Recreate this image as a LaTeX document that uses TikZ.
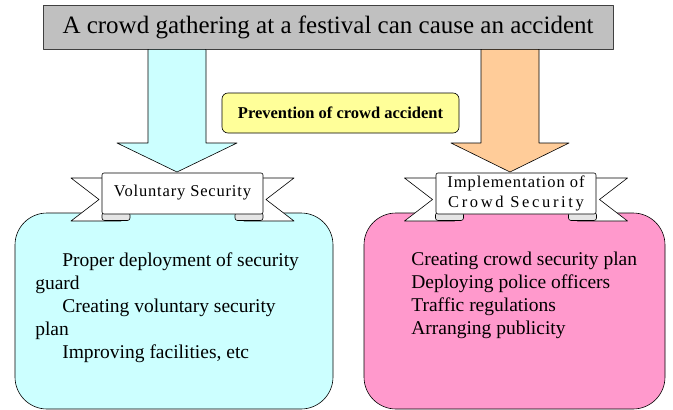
\documentclass[tikz,border=0pt]{standalone}
\usepackage{fontspec}
\setmainfont{Liberation Serif}
\usetikzlibrary{calc}
\definecolor{titlegray}{HTML}{C0C0C0}
\definecolor{lightcyan}{HTML}{CCFFFF}
\definecolor{peach}{HTML}{FFCC99}
\definecolor{paleyellow}{HTML}{FFFF99}
\definecolor{rosepink}{HTML}{FF99CC}
\begin{document}
\begin{tikzpicture}[x=1pt, y=-1pt, line join=round, line width=0.6pt,
		bigbox/.style={draw, rounded corners=32pt, minimum height=196pt},
		ribbon/.style={draw, fill=white, rounded corners=2pt, minimum width=161pt, minimum height=41pt, inner sep=0pt, align=center, font=\fontsize{16.5}{20}\selectfont},
		tail/.style={draw, fill=white},
		fold/.style={draw, fill=gray!20, rounded corners=2.5pt},
		bodytext/.style={anchor=west, inner sep=0pt, align=left, font=\fontsize{19.5}{23}\selectfont}]
		\useasboundingbox (0,0) rectangle (673,410);
		\def\ind{\hspace*{27pt}}
		% two big boxes
		\node[bigbox, fill=lightcyan, minimum width=318pt] (boxL) at (174,311) {};
		\node[bigbox, fill=rosepink, minimum width=301pt] (boxR) at (514.5,311) {};
		\node[bodytext] (txtL) at (35,308) {\ind Proper deployment of security\\guard\\\ind Creating voluntary security\\plan\\\ind Improving facilities, etc};
		\node[bodytext] (txtR) at (411,295) {Creating crowd security plan\\Deploying police officers\\Traffic regulations\\Arranging publicity};
		% title and the two block arrows
		\node[draw=black!75, fill=titlegray, minimum width=570pt, minimum height=44pt, font=\fontsize{25}{30}\selectfont] (title) at (328,27) {A crowd gathering at a festival can cause an accident};
		\coordinate (tipL) at (177,172);
		\coordinate (tipR) at (510,172);
		\draw[fill=lightcyan] ($(title.south -| tipL)+(-29,0)$) -- ($(tipL)+(-29,-29)$) -- ++(-31,0) -- (tipL) -- ($(tipL)+(60,-29)$) -- ++(-31,0) -- ($(title.south -| tipL)+(29,0)$) -- cycle;
		\draw[fill=peach] ($(title.south -| tipR)+(-29,0)$) -- ($(tipR)+(-29,-29)$) -- ++(-30,0) -- (tipR) -- ($(tipR)+(59,-29)$) -- ++(-30,0) -- ($(title.south -| tipR)+(29,0)$) -- cycle;
		\node[draw, fill=paleyellow, rounded corners=6pt, minimum width=237pt, minimum height=40pt, font=\fontsize{16.5}{20}\bfseries] (prev) at (340.5,113) {Prevention of crowd accident};
		% ribbons
		\coordinate (cL) at (182.5,193.5);
		\coordinate (cR) at (516,193.5);
		\foreach \c in {cL,cR} {
			\draw[tail] ($(\c)+(-111.5,-15.5)$) -- ++(50,0) -- ++(0,43) -- ++(-50,0) -- ++(28,-21.5) -- cycle;
			\draw[tail] ($(\c)+(111.5,-15.5)$) -- ++(-50,0) -- ++(0,43) -- ++(50,0) -- ++(-28,-21.5) -- cycle;
			\draw[fold] ($(\c)+(-52.5,19)$) rectangle ($(\c)+(-80.5,27)$);
			\draw[fold] ($(\c)+(52.5,19)$) rectangle ($(\c)+(80.5,27)$);
		}
		\node[ribbon] (banL) at (cL) {\raisebox{5pt}{\addfontfeatures{LetterSpace=5}Voluntary Security}};
		\node[ribbon, minimum width=160pt] (banR) at (cR) {\addfontfeatures{LetterSpace=6}Implementation of\\\addfontfeatures{LetterSpace=16}Crowd Security};
\end{tikzpicture}
\end{document}
